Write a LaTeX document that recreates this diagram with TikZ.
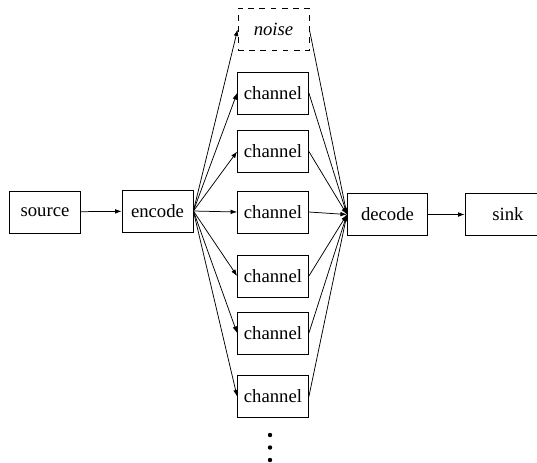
\documentclass[tikz,border=0pt]{standalone}
\usepackage{fontspec}
\setmainfont{Liberation Serif}
\usepackage{tikz}
\usetikzlibrary{arrows.meta, positioning}

\tikzset{
  block/.style={draw, thin, minimum width=38pt, minimum height=22.5pt, inner sep=2pt, font=\normalsize},
  noisebox/.style={block, dashed, font=\normalsize\itshape},
  flow/.style={thin, -{Latex[length=3.5pt, width=2.5pt]}}
}

\begin{document}
\begin{tikzpicture}[x=0.535pt, y=-0.535pt]
  \useasboundingbox (0,0) rectangle (537,462);

  % --- left part: source and encoder ---
  \node[block] (source) at (45, 212) {source};
  \node[block] (encode) at (157.5, 211) {encode};
  \draw[flow] (source) -- (encode);

  % --- noise and the channels ---
  \node[noisebox] (noise) at (273.5, 29.5) {noise};
  \foreach \i/\y in {1/93, 2/151.5, 3/212, 4/276, 5/333, 6/396.5} {
    \node[block] (ch\i) at (273, \y) {channel};
  }

  % --- right part: decoder and sink ---
  \node[block, minimum width=43pt] (decode) at (387.5, 214.5) {decode};
  \node[block, minimum width=46pt] (sink) at (508, 214.5) {sink};

  % fan out from the encoder
  \draw[flow] (encode.east) -- (noise.west);
  \foreach \i in {1,...,6} {
    \draw[flow] (encode.east) -- (ch\i.west);
  }

  % fan in to the decoder
  \draw[flow] (noise.east) -- (decode.west);
  \foreach \i in {1,...,6} {
    \draw[flow] (ch\i.east) -- (decode.west);
  }
  \draw[flow] (decode) -- (sink);

  % more channels below
  \foreach \y in {435, 447.5, 460} {
    \fill (270, \y) circle (2.2);
  }
\end{tikzpicture}
\end{document}
